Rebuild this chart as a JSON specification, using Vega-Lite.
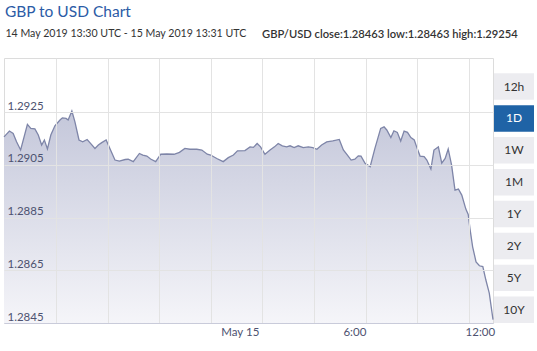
{
  "$schema": "https://vega.github.io/schema/vega-lite/v6.json",
  "padding": {"left": 0, "top": 5, "right": 2, "bottom": 2},
  "autosize": {"type": "pad"},
  "bounds": "flush",
  "spacing": 1,
  "config": {
    "font": "Lato",
    "view": {"stroke": null},
    "axis": {"labelFont": "Lato"}
  },
  "title": {
    "text": "GBP to USD Chart",
    "anchor": "start",
    "fontSize": 15.5,
    "fontWeight": "normal",
    "color": "#2b5ba6",
    "offset": 8,
    "dx": 4
  },
  "datasets": {
    "rates": [
      {"time": "2019-05-14T13:30:00Z", "rate": 1.29156},
      {"time": "2019-05-14T13:46:00Z", "rate": 1.29178},
      {"time": "2019-05-14T13:57:00Z", "rate": 1.29169},
      {"time": "2019-05-14T14:07:00Z", "rate": 1.29137},
      {"time": "2019-05-14T14:19:00Z", "rate": 1.29106},
      {"time": "2019-05-14T14:39:00Z", "rate": 1.29203},
      {"time": "2019-05-14T14:49:00Z", "rate": 1.29188},
      {"time": "2019-05-14T15:01:00Z", "rate": 1.29186},
      {"time": "2019-05-14T15:11:00Z", "rate": 1.29163},
      {"time": "2019-05-14T15:21:00Z", "rate": 1.29125},
      {"time": "2019-05-14T15:29:00Z", "rate": 1.29144},
      {"time": "2019-05-14T15:38:00Z", "rate": 1.29110},
      {"time": "2019-05-14T15:48:00Z", "rate": 1.29163},
      {"time": "2019-05-14T16:00:00Z", "rate": 1.29198},
      {"time": "2019-05-14T16:15:00Z", "rate": 1.29220},
      {"time": "2019-05-14T16:22:00Z", "rate": 1.29228},
      {"time": "2019-05-14T16:33:00Z", "rate": 1.29226},
      {"time": "2019-05-14T16:39:00Z", "rate": 1.29220},
      {"time": "2019-05-14T16:50:00Z", "rate": 1.29254},
      {"time": "2019-05-14T16:59:00Z", "rate": 1.29213},
      {"time": "2019-05-14T17:11:00Z", "rate": 1.29144},
      {"time": "2019-05-14T17:22:00Z", "rate": 1.29137},
      {"time": "2019-05-14T17:35:00Z", "rate": 1.29146},
      {"time": "2019-05-14T17:45:00Z", "rate": 1.29131},
      {"time": "2019-05-14T17:58:00Z", "rate": 1.29112},
      {"time": "2019-05-14T18:08:00Z", "rate": 1.29125},
      {"time": "2019-05-14T18:18:00Z", "rate": 1.29134},
      {"time": "2019-05-14T18:31:00Z", "rate": 1.29144},
      {"time": "2019-05-14T18:42:00Z", "rate": 1.29112},
      {"time": "2019-05-14T18:57:00Z", "rate": 1.29068},
      {"time": "2019-05-14T19:10:00Z", "rate": 1.29064},
      {"time": "2019-05-14T19:27:00Z", "rate": 1.29070},
      {"time": "2019-05-14T19:36:00Z", "rate": 1.29071},
      {"time": "2019-05-14T19:51:00Z", "rate": 1.29062},
      {"time": "2019-05-14T20:09:00Z", "rate": 1.29093},
      {"time": "2019-05-14T20:19:00Z", "rate": 1.29087},
      {"time": "2019-05-14T20:31:00Z", "rate": 1.29083},
      {"time": "2019-05-14T20:42:00Z", "rate": 1.29072},
      {"time": "2019-05-14T20:57:00Z", "rate": 1.29062},
      {"time": "2019-05-14T21:12:00Z", "rate": 1.29090},
      {"time": "2019-05-14T21:30:00Z", "rate": 1.29091},
      {"time": "2019-05-14T21:51:00Z", "rate": 1.29090},
      {"time": "2019-05-14T22:07:00Z", "rate": 1.29097},
      {"time": "2019-05-14T22:23:00Z", "rate": 1.29112},
      {"time": "2019-05-14T22:38:00Z", "rate": 1.29109},
      {"time": "2019-05-14T22:58:00Z", "rate": 1.29109},
      {"time": "2019-05-14T23:13:00Z", "rate": 1.29106},
      {"time": "2019-05-14T23:29:00Z", "rate": 1.29090},
      {"time": "2019-05-14T23:39:00Z", "rate": 1.29087},
      {"time": "2019-05-14T23:57:00Z", "rate": 1.29074},
      {"time": "2019-05-15T00:16:00Z", "rate": 1.29062},
      {"time": "2019-05-15T00:31:00Z", "rate": 1.29077},
      {"time": "2019-05-15T00:46:00Z", "rate": 1.29087},
      {"time": "2019-05-15T00:58:00Z", "rate": 1.29103},
      {"time": "2019-05-15T01:20:00Z", "rate": 1.29104},
      {"time": "2019-05-15T01:35:00Z", "rate": 1.29118},
      {"time": "2019-05-15T01:45:00Z", "rate": 1.29116},
      {"time": "2019-05-15T01:56:00Z", "rate": 1.29131},
      {"time": "2019-05-15T02:06:00Z", "rate": 1.29118},
      {"time": "2019-05-15T02:19:00Z", "rate": 1.29090},
      {"time": "2019-05-15T02:34:00Z", "rate": 1.29106},
      {"time": "2019-05-15T02:47:00Z", "rate": 1.29118},
      {"time": "2019-05-15T02:58:00Z", "rate": 1.29131},
      {"time": "2019-05-15T03:10:00Z", "rate": 1.29122},
      {"time": "2019-05-15T03:23:00Z", "rate": 1.29118},
      {"time": "2019-05-15T03:33:00Z", "rate": 1.29122},
      {"time": "2019-05-15T03:45:00Z", "rate": 1.29115},
      {"time": "2019-05-15T03:57:00Z", "rate": 1.29122},
      {"time": "2019-05-15T04:12:00Z", "rate": 1.29115},
      {"time": "2019-05-15T04:27:00Z", "rate": 1.29118},
      {"time": "2019-05-15T04:40:00Z", "rate": 1.29115},
      {"time": "2019-05-15T04:52:00Z", "rate": 1.29109},
      {"time": "2019-05-15T05:06:00Z", "rate": 1.29125},
      {"time": "2019-05-15T05:21:00Z", "rate": 1.29137},
      {"time": "2019-05-15T05:39:00Z", "rate": 1.29141},
      {"time": "2019-05-15T05:58:00Z", "rate": 1.29146},
      {"time": "2019-05-15T06:10:00Z", "rate": 1.29106},
      {"time": "2019-05-15T06:22:00Z", "rate": 1.29087},
      {"time": "2019-05-15T06:33:00Z", "rate": 1.29068},
      {"time": "2019-05-15T06:44:00Z", "rate": 1.29071},
      {"time": "2019-05-15T06:54:00Z", "rate": 1.29084},
      {"time": "2019-05-15T07:02:00Z", "rate": 1.29083},
      {"time": "2019-05-15T07:14:00Z", "rate": 1.29056},
      {"time": "2019-05-15T07:29:00Z", "rate": 1.29043},
      {"time": "2019-05-15T07:43:00Z", "rate": 1.29112},
      {"time": "2019-05-15T08:00:00Z", "rate": 1.29188},
      {"time": "2019-05-15T08:10:00Z", "rate": 1.29194},
      {"time": "2019-05-15T08:18:00Z", "rate": 1.29182},
      {"time": "2019-05-15T08:30:00Z", "rate": 1.29153},
      {"time": "2019-05-15T08:39:00Z", "rate": 1.29179},
      {"time": "2019-05-15T08:49:00Z", "rate": 1.29173},
      {"time": "2019-05-15T08:59:00Z", "rate": 1.29140},
      {"time": "2019-05-15T09:09:00Z", "rate": 1.29178},
      {"time": "2019-05-15T09:19:00Z", "rate": 1.29173},
      {"time": "2019-05-15T09:29:00Z", "rate": 1.29153},
      {"time": "2019-05-15T09:39:00Z", "rate": 1.29144},
      {"time": "2019-05-15T09:46:00Z", "rate": 1.29118},
      {"time": "2019-05-15T09:56:00Z", "rate": 1.29083},
      {"time": "2019-05-15T10:08:00Z", "rate": 1.29081},
      {"time": "2019-05-15T10:16:00Z", "rate": 1.29068},
      {"time": "2019-05-15T10:28:00Z", "rate": 1.29034},
      {"time": "2019-05-15T10:37:00Z", "rate": 1.29106},
      {"time": "2019-05-15T10:50:00Z", "rate": 1.29118},
      {"time": "2019-05-15T11:00:00Z", "rate": 1.29056},
      {"time": "2019-05-15T11:10:00Z", "rate": 1.29074},
      {"time": "2019-05-15T11:19:00Z", "rate": 1.29110},
      {"time": "2019-05-15T11:29:00Z", "rate": 1.29049},
      {"time": "2019-05-15T11:39:00Z", "rate": 1.28954},
      {"time": "2019-05-15T11:49:00Z", "rate": 1.28958},
      {"time": "2019-05-15T11:59:00Z", "rate": 1.28935},
      {"time": "2019-05-15T12:11:00Z", "rate": 1.28882},
      {"time": "2019-05-15T12:18:00Z", "rate": 1.28862},
      {"time": "2019-05-15T12:23:00Z", "rate": 1.28809},
      {"time": "2019-05-15T12:31:00Z", "rate": 1.28739},
      {"time": "2019-05-15T12:41:00Z", "rate": 1.28682},
      {"time": "2019-05-15T12:51:00Z", "rate": 1.28667},
      {"time": "2019-05-15T13:01:00Z", "rate": 1.28664},
      {"time": "2019-05-15T13:10:00Z", "rate": 1.28613},
      {"time": "2019-05-15T13:20:00Z", "rate": 1.28563},
      {"time": "2019-05-15T13:31:00Z", "rate": 1.28463}
    ],
    "periods": [
      {"period": "12h", "selected": "no"},
      {"period": "1D", "selected": "yes"},
      {"period": "1W", "selected": "no"},
      {"period": "1M", "selected": "no"},
      {"period": "1Y", "selected": "no"},
      {"period": "2Y", "selected": "no"},
      {"period": "5Y", "selected": "no"},
      {"period": "10Y", "selected": "no"}
    ]
  },
  "hconcat": [
    {
      "width": 489,
      "height": 265,
      "title": {
        "text": "14 May 2019 13:30 UTC - 15 May 2019 13:31 UTC",
        "anchor": "start",
        "fontSize": 10.6,
        "fontWeight": "normal",
        "color": "#333333",
        "offset": 18,
        "dx": 4
      },
      "data": {"name": "rates"},
      "view": {"stroke": "#dcdcdc"},
      "encoding": {
        "y": {
          "field": "rate",
          "type": "quantitative",
          "scale": {"domain": [1.2845, 1.29455], "nice": false, "zero": false},
          "axis": {
            "values": [1.2845, 1.2865, 1.2885, 1.2905, 1.2925],
            "format": ".4f",
            "grid": true,
            "gridColor": "#e3e3e3",
            "domain": false,
            "ticks": false,
            "tickSize": 0,
            "minExtent": 0,
            "maxExtent": 0,
            "labelAlign": "left",
            "labelBaseline": "alphabetic",
            "labelPadding": -3,
            "labelOffset": -3,
            "labelColor": "#4d5270",
            "labelFontSize": 11.5,
            "labelFlush": false,
            "labelOverlap": false,
            "zindex": 1,
            "title": null
          }
        }
      },
      "layer": [
        {
          "mark": {
            "type": "area",
            "color": {
              "gradient": "linear",
              "x1": 0, "y1": 0, "x2": 0, "y2": 1,
              "stops": [
                {"offset": 0, "color": "#c4c7da"},
                {"offset": 1, "color": "#f5f5f9"}
              ]
            }
          },
          "encoding": {
            "y2": {"datum": 1.2845},
            "x": {
              "field": "time",
              "type": "temporal",
              "scale": {
                "type": "utc",
                "domain": [
                  {"year": 2019, "month": 5, "date": 14, "hours": 13, "minutes": 30, "utc": true},
                  {"year": 2019, "month": 5, "date": 15, "hours": 13, "minutes": 31, "utc": true}
                ]
              },
              "axis": {
                "orient": "bottom",
                "values": [
                  {"year": 2019, "month": 5, "date": 14, "hours": 16, "minutes": 3, "utc": true},
                  {"year": 2019, "month": 5, "date": 14, "hours": 18, "minutes": 35, "utc": true},
                  {"year": 2019, "month": 5, "date": 14, "hours": 21, "minutes": 7, "utc": true},
                  {"year": 2019, "month": 5, "date": 14, "hours": 23, "minutes": 39, "utc": true},
                  {"year": 2019, "month": 5, "date": 15, "hours": 2, "minutes": 11, "utc": true},
                  {"year": 2019, "month": 5, "date": 15, "hours": 4, "minutes": 43, "utc": true},
                  {"year": 2019, "month": 5, "date": 15, "hours": 7, "minutes": 16, "utc": true},
                  {"year": 2019, "month": 5, "date": 15, "hours": 9, "minutes": 48, "utc": true},
                  {"year": 2019, "month": 5, "date": 15, "hours": 12, "minutes": 20, "utc": true}
                ],
                "grid": true,
                "gridColor": "#e3e3e3",
                "labels": false,
                "ticks": false,
                "domain": false,
                "minExtent": 0,
                "maxExtent": 0,
                "zindex": 1,
                "title": null
              }
            }
          }
        },
        {
          "mark": {"type": "line", "color": "#7e85a8", "strokeWidth": 1.3},
          "encoding": {
            "x": {
              "field": "time",
              "type": "temporal",
              "axis": {
                "orient": "bottom",
                "values": [
                  {"year": 2019, "month": 5, "date": 15, "hours": 0, "minutes": 0, "utc": true},
                  {"year": 2019, "month": 5, "date": 15, "hours": 6, "minutes": 0, "utc": true},
                  {"year": 2019, "month": 5, "date": 15, "hours": 12, "minutes": 0, "utc": true}
                ],
                "labelExpr": "utchours(datum.value) === 0 ? utcFormat(datum.value, '%b %-d') : utcFormat(datum.value, '%-H:%M')",
                "grid": false,
                "ticks": false,
                "tickSize": 0,
                "domain": true,
                "domainColor": "#c9cbda",
                "labelAlign": "left",
                "labelOffset": 3,
                "labelPadding": 3,
                "labelColor": "#4d5270",
                "labelFontSize": 11.5,
                "labelFlush": false,
                "labelOverlap": false,
                "zindex": 1,
                "title": null
              }
            }
          }
        }
      ],
      "resolve": {"axis": {"x": "independent"}}
    },
    {
      "width": 40,
      "height": 265,
      "title": {
        "text": "GBP/USD close:1.28463 low:1.28463 high:1.29254",
        "anchor": "start",
        "fontSize": 11.2,
        "fontWeight": 600,
        "color": "#333333",
        "offset": 18,
        "dx": -232
      },
      "data": {"name": "periods"},
      "encoding": {
        "y": {
          "field": "period",
          "type": "nominal",
          "sort": null,
          "scale": {"paddingInner": 0.17, "paddingOuter": 0.24, "align": 1},
          "axis": null
        }
      },
      "layer": [
        {
          "mark": {"type": "rect"},
          "encoding": {
            "color": {
              "condition": {"test": "datum.selected === 'yes'", "value": "#1f63a6"},
              "value": "#ececf0"
            }
          }
        },
        {
          "mark": {"type": "text", "fontSize": 12, "baseline": "middle", "align": "center"},
          "encoding": {
            "text": {"field": "period", "type": "nominal"},
            "color": {
              "condition": {"test": "datum.selected === 'yes'", "value": "#ffffff"},
              "value": "#333333"
            }
          }
        }
      ]
    }
  ]
}
